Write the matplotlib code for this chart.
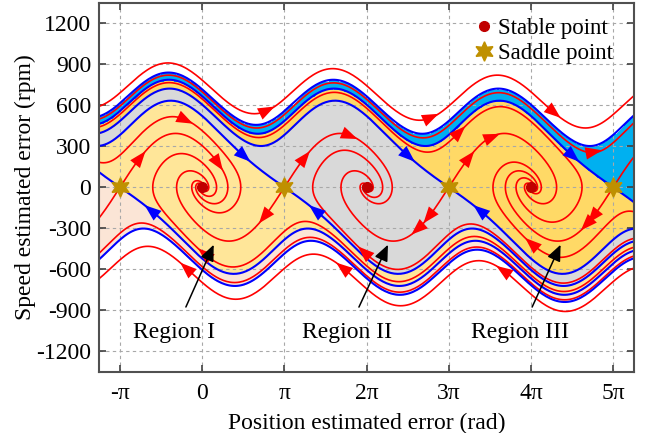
import math
import numpy as np
import matplotlib.pyplot as plt
from matplotlib.lines import Line2D

plt.rcParams['font.family'] = ['Liberation Serif', 'DejaVu Serif']
plt.rcParams['axes.unicode_minus'] = False

PI = np.pi

# error dynamics: d(theta)/dt = w ; dw/dt = -K sin(theta) - P cos(theta) w
K_gain = 40000.0
P_gain = 165.0

x_lim = (-1.25 * PI, 5.25 * PI)
y_lim = (-1350, 1350)
x_ticks = np.arange(-1, 6) * PI
x_labels = ['-π', '0', 'π', '2π', '3π', '4π', '5π']
y_ticks = np.arange(-1200, 1201, 300)

stable_pts = np.array([0, 2, 4]) * PI
saddle_pts = np.array([-1, 1, 3, 5]) * PI

# basin colours, for the stable points -2pi, 0, 2pi, 4pi, 6pi
basin_colors = ['#FBE5D6', '#FFE699', '#D9D9D9', '#FFD966', '#00B0F0']

# saddles whose stable manifolds are drawn (upper-left / lower-right branches)
sep_upper = np.array([-1, 1, 3, 5, 7]) * PI
sep_lower = np.array([-3, -1, 1, 3, 5]) * PI

# unstable manifolds: extra arrows (theta/pi, first crossing)
uns_up_arrows = [[0.25], [1.88], [3.61], []]
uns_dn_arrows = [[], [], [2.55], [4.61]]

# red trajectories: start speed at the left edge (moving right) / right edge (moving left)
start_left = [203, 435, 490, 580]
start_right = [-200, -371, -432, -493, -579]
arrows_left = [[-0.12], [3.2], [4.86], [0.87, 2.87, 4.35]]
arrows_right = [[3.94], [1.9], [-0.05], [], [3.58, 1.63, -0.26]]

regions = ['Region I', 'Region II', 'Region III']
region_tip = [(0.14, -420), (2.26, -420), (4.36, -420)]
region_txt = [(-0.34, -1065), (1.76, -1065), (3.87, -1065)]


def rhs(t, w):
    return w, -K_gain * np.sin(t) - P_gain * np.cos(t) * w


def rk4(t, w, dt):
    a1, b1 = rhs(t, w)
    a2, b2 = rhs(t + 0.5 * dt * a1, w + 0.5 * dt * b1)
    a3, b3 = rhs(t + 0.5 * dt * a2, w + 0.5 * dt * b2)
    a4, b4 = rhs(t + dt * a3, w + dt * b3)
    return (t + dt / 6 * (a1 + 2 * a2 + 2 * a3 + a4),
            w + dt / 6 * (b1 + 2 * b2 + 2 * b3 + b4))


def f1(t, w):
    return w, -K_gain * math.sin(t) - P_gain * math.cos(t) * w


def trace(t, w, dt=1e-4, nmax=40000):
    ts, ws = [t], [w]
    for _ in range(nmax):
        a1, b1 = f1(t, w)
        a2, b2 = f1(t + 0.5 * dt * a1, w + 0.5 * dt * b1)
        a3, b3 = f1(t + 0.5 * dt * a2, w + 0.5 * dt * b2)
        a4, b4 = f1(t + dt * a3, w + dt * b3)
        t += dt / 6 * (a1 + 2 * a2 + 2 * a3 + a4)
        w += dt / 6 * (b1 + 2 * b2 + 2 * b3 + b4)
        ts.append(t)
        ws.append(w)
        if t < -3.6 * PI or t > 7.6 * PI or abs(w) > 1500:
            break
        k = round(t / (2 * PI))
        if abs(t - 2 * PI * k) < 0.004 and abs(w) < 0.8:
            break
    return np.array(ts), np.array(ws)


def basin_map(nx=300, ny=220, dt=2e-4, nsteps=1800):
    gx = np.linspace(x_lim[0], x_lim[1], nx)
    gy = np.linspace(y_lim[0], y_lim[1], ny)
    TH, W = np.meshgrid(gx, gy)
    t = TH.ravel().copy()
    w = W.ravel().copy()
    res = np.zeros(t.size)
    idx = np.arange(t.size)
    for s in range(nsteps):
        t, w = rk4(t, w, dt)
        if s % 20 == 19:
            k = np.round(t / (2 * PI))
            conv = (np.abs(t - 2 * PI * k) < 0.05) & (np.abs(w) < 10)
            out_r = t > 7.2 * PI
            out_l = t < -3.2 * PI
            done = conv | out_r | out_l
            res[idx[done]] = np.where(out_r[done], 4, np.where(out_l[done], -2, k[done]))
            keep = ~done
            t, w, idx = t[keep], w[keep], idx[keep]
            if idx.size == 0:
                break
    res[idx] = np.round(t / (2 * PI))
    return gx, gy, np.clip(res, -2, 4).reshape(ny, nx)


fig = plt.figure(figsize=(6.46, 4.33), dpi=100)
ax = fig.add_axes([0.154, 0.141, 0.827, 0.853])
AX_W, AX_H = 0.827 * 646, 0.853 * 433


def to_px(t, w):
    return ((t - x_lim[0]) / (x_lim[1] - x_lim[0]) * AX_W,
            (w - y_lim[0]) / (y_lim[1] - y_lim[0]) * AX_H)


def arrow_at(t, w, i, color, back=False):
    px, py = to_px(t, w)
    step = -1 if back else 1
    j = i
    while 0 < j < len(t) - 1 and math.hypot(px[j] - px[i], py[j] - py[i]) < 12:
        j -= step
    ax.annotate('', xy=(t[i], w[i]), xytext=(t[j], w[j]),
                arrowprops=dict(arrowstyle='-|>,head_length=0.75,head_width=0.28',
                                color=color, lw=0, shrinkA=0, shrinkB=0,
                                mutation_scale=16), zorder=6)


def arc_index(t, w, s):
    px, py = to_px(t, w)
    arc = np.concatenate([[0], np.cumsum(np.hypot(np.diff(px), np.diff(py)))])
    return min(np.searchsorted(arc, s), len(t) - 2)


def arrows_cross(t, w, marks, color, rightward=True):
    for a in marks:
        hit = np.nonzero(t >= a * PI)[0] if rightward else np.nonzero(t <= a * PI)[0]
        if hit.size and 0 < hit[0] < len(t) - 1:
            arrow_at(t, w, hit[0], color)


# basins of attraction
gx, gy, code = basin_map()
fill_colors = ['white'] + basin_colors + ['white']
ax.contourf(gx, gy, code, levels=np.arange(-2.5, 5), colors=fill_colors, zorder=1)

lam_s = (P_gain - math.sqrt(P_gain ** 2 + 4 * K_gain)) / 2
lam_u = (P_gain + math.sqrt(P_gain ** 2 + 4 * K_gain)) / 2
eps = 1e-5

# stable manifolds of the saddles (blue), traced backward in time
for s in sep_upper:
    t, w = trace(s - eps, -lam_s * eps, dt=-1e-4)
    ax.plot(t, w, color='#0000FF', lw=1.5, zorder=4)
    if x_lim[0] < s < x_lim[1]:
        arrow_at(t, w, arc_index(t, w, 42), '#0000FF', back=True)
for s in sep_lower:
    t, w = trace(s + eps, lam_s * eps, dt=-1e-4)
    ax.plot(t, w, color='#0000FF', lw=1.5, zorder=4)
    if x_lim[0] < s < x_lim[1]:
        arrow_at(t, w, arc_index(t, w, 30), '#0000FF', back=True)

# unstable manifolds of the saddles (red)
for s, up_a, dn_a in zip(saddle_pts, uns_up_arrows, uns_dn_arrows):
    t, w = trace(s + eps, lam_u * eps)
    ax.plot(t, w, color='#FF0000', lw=1.2, zorder=3)
    arrow_at(t, w, arc_index(t, w, 44), '#FF0000')
    arrows_cross(t, w, up_a, '#FF0000', rightward=True)
    t, w = trace(s - eps, -lam_u * eps)
    ax.plot(t, w, color='#FF0000', lw=1.2, zorder=3)
    arrow_at(t, w, arc_index(t, w, 44), '#FF0000')
    arrows_cross(t, w, dn_a, '#FF0000', rightward=False)

# other trajectories (red)
for y0, arr in zip(start_left, arrows_left):
    t, w = trace(x_lim[0] - 0.3, y0)
    ax.plot(t, w, color='#FF0000', lw=1.2, zorder=3)
    arrows_cross(t, w, arr, '#FF0000', rightward=True)
for y0, arr in zip(start_right, arrows_right):
    t, w = trace(x_lim[1] + 0.3, y0)
    ax.plot(t, w, color='#FF0000', lw=1.2, zorder=3)
    arrows_cross(t, w, arr, '#FF0000', rightward=False)

ax.plot(stable_pts, np.zeros_like(stable_pts), 'o', color='#C00000', ms=7, zorder=7)
ax.plot(saddle_pts, np.zeros_like(saddle_pts), marker=(6, 1, 0), ls='none',
        color='#BF9000', ms=14, zorder=7)

for name, tip, txt in zip(regions, region_tip, region_txt):
    ax.annotate(name, xy=(tip[0] * PI, tip[1]), xytext=(txt[0] * PI, txt[1]),
                ha='center', va='center', fontsize=17, zorder=8,
                arrowprops=dict(arrowstyle='-|>,head_length=0.7,head_width=0.3',
                                color='black', lw=1.1, mutation_scale=14,
                                shrinkA=10, shrinkB=0))

handles = [Line2D([], [], marker='o', ls='none', color='#C00000', ms=7),
           Line2D([], [], marker=(6, 1, 0), ls='none', color='#BF9000', ms=14)]
ax.legend(handles, ['Stable point', 'Saddle point'], loc='upper right', frameon=False,
          fontsize=16.5, handletextpad=0.05, labelspacing=0.2, borderaxespad=0.25,
          handlelength=1.2, bbox_to_anchor=(0.99, 1.0))

ax.set_xlim(x_lim)
ax.set_ylim(y_lim)
ax.set_xticks(x_ticks)
ax.set_xticklabels(x_labels)
ax.set_yticks(y_ticks)
ax.tick_params(direction='in', top=True, right=True, length=5, width=1.2,
               labelsize=17, pad=6, color='#404040')
ax.tick_params(axis='x', pad=8)
ax.grid(True, ls=(0, (3, 3)), color='#A8A8A8', lw=0.8, zorder=2)
ax.set_axisbelow(False)
for sp in ax.spines.values():
    sp.set_linewidth(1.5)
    sp.set_color('#505050')
    sp.set_zorder(9)
ax.set_xlabel('Position estimated error (rad)', fontsize=17, labelpad=6)
ax.set_ylabel('Speed estimated error (rpm)', fontsize=17, labelpad=0)

fig.savefig('out.png', dpi=100)
